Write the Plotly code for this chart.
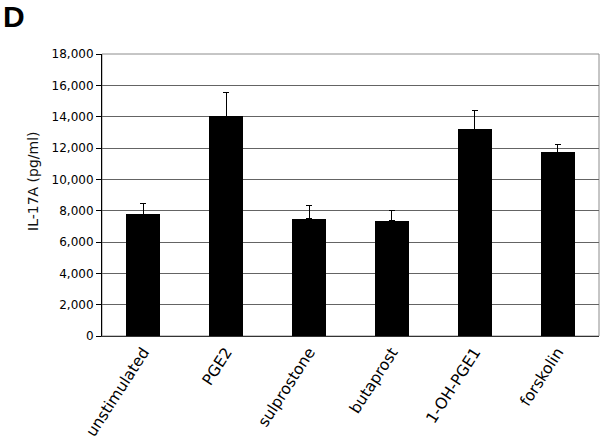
import plotly.graph_objects as go

categories = ["unstimulated", "PGE2", "sulprostone", "butaprost", "1-OH-PGE1", "forskolin"]
values = [7780, 14030, 7500, 7370, 13190, 11740]
errors = [680, 1520, 800, 620, 1230, 510]
y_ticks = [0, 2000, 4000, 6000, 8000, 10000, 12000, 14000, 16000, 18000]

FONT = "DejaVu Sans"

fig = go.Figure()
fig.add_trace(go.Bar(
    x=categories,
    y=values,
    width=0.41,
    marker=dict(color="black", line=dict(width=0)),
    error_y=dict(type="data", symmetric=False, array=errors,
                 arrayminus=[0] * len(errors), color="black",
                 thickness=1, width=3),
))

fig.update_layout(
    width=604, height=440,
    margin=dict(l=102, r=5, t=54, b=104),
    paper_bgcolor="white", plot_bgcolor="white",
    showlegend=False,
    bargap=0,
    xaxis=dict(
        automargin=False,
        tickangle=-57,
        tickfont=dict(family=FONT, size=15.5, color="black"),
        showgrid=False, showline=True, linecolor="#333333", linewidth=1,
        ticks="", zeroline=False,
    ),
    yaxis=dict(
        automargin=False,
        range=[0, 18000],
        tickvals=y_ticks,
        tickformat=",d",
        tickfont=dict(family=FONT, size=12, color="black"),
        showgrid=True, gridcolor="#646464", gridwidth=1,
        showline=True, linecolor="black", linewidth=1,
        ticks="outside", ticklen=5, tickcolor="black",
        zeroline=False,
    ),
    shapes=[dict(type="rect", xref="paper", yref="paper", x0=0, x1=1, y0=0, y1=1,
                 line=dict(color="#8c8c8c", width=1), layer="below")],
    annotations=[
        dict(text="IL-17A (pg/ml)", xref="paper", yref="paper",
             x=(33 - 102) / 497, y=(336 - 181) / 282, xanchor="center", yanchor="middle",
             textangle=-90, showarrow=False,
             font=dict(family=FONT, size=14, color="#111111")),
        dict(text="<b>D</b>", xref="paper", yref="paper",
             x=(2 - 102) / 497, y=(336 - 0) / 282, xanchor="left", yanchor="top",
             xshift=-1, yshift=2, showarrow=False,
             font=dict(family="Liberation Sans", size=30, color="black")),
    ],
)

fig.write_html("out.html",
               config={"displayModeBar": False},
               post_script="document.body.style.margin='0';document.body.style.overflow='hidden';")
